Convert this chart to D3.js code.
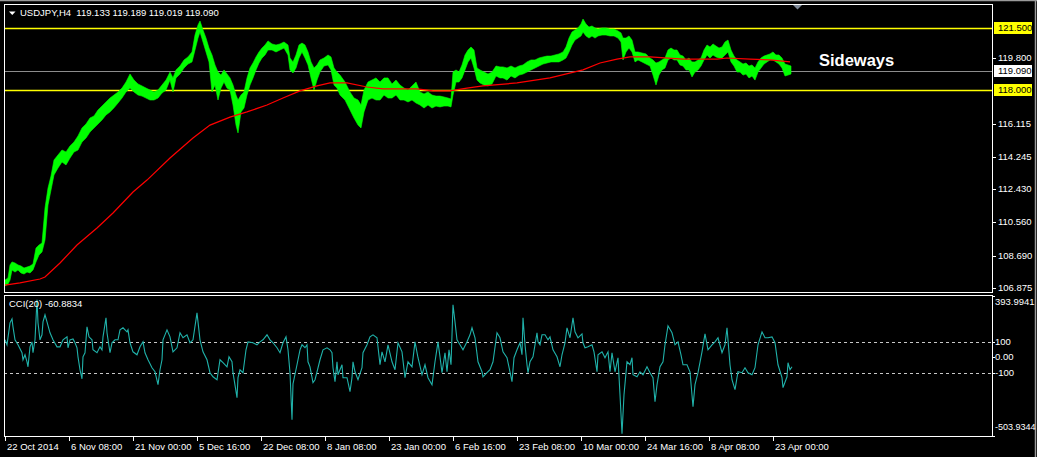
<!DOCTYPE html>
<html><head><meta charset="utf-8">
<script src="https://cdn.jsdelivr.net/npm/d3@7"></script>
<style>html,body{margin:0;padding:0;background:#000;overflow:hidden}svg{display:block}text{font-family:"Liberation Sans",Arial,sans-serif}</style>
</head><body><svg id="c" width="1037" height="457"></svg>
<script>
// ---------- DATA ----------
const symbolTitle = "USDJPY,H4  119.133 119.189 119.019 119.090";
const cciTitle = "CCI(20) -60.8834";
const annotation = "Sideways";
const dateLabels = ["22 Oct 2014","6 Nov 08:00","21 Nov 00:00","5 Dec 16:00","22 Dec 08:00","8 Jan 08:00","23 Jan 00:00","6 Feb 16:00","23 Feb 08:00","10 Mar 00:00","24 Mar 16:00","8 Apr 08:00","23 Apr 00:00"];
const dateBars = [0,64,128,192,256,320,384,448,512,576,640,704,768];
const priceTicks = [106.875,108.690,110.560,112.430,114.245,116.115,119.800];
const levelLines = [121.500,118.000];
const lastPrice = 119.090;
const cciTicks = [393.9941,100,0,-100,-503.9344];
const cciTickLabels = ["393.9941","100","0.00","-100","-503.9344"];
const cciLevels = [100,-100];
// [bar, high, low]
const price = [
[0,107.32,106.99],[3,107.44,107.10],[5,108.17,107.32],[7,108.34,107.89],[10,108.28,107.77],[13,108.17,107.89],[16,108.11,107.72],[19,108.00,107.66],[22,108.05,107.77],[25,108.11,107.72],[28,108.22,107.89],[31,109.12,108.34],[34,109.29,108.73],[37,109.40,108.90],[40,111.37,109.57],[43,112.49,111.54],[46,113.17,112.38],[49,114.07,113.23],[53,114.35,113.62],[57,114.63,113.96],[61,114.52,113.79],[65,114.86,114.18],[69,115.08,114.52],[73,115.42,114.63],[77,115.87,115.08],[81,116.09,115.30],[85,116.43,115.64],[89,116.54,115.87],[93,116.88,116.09],[97,117.10,116.32],[101,117.33,116.60],[105,117.55,116.77],[109,117.72,117.00],[113,117.89,117.27],[117,118.11,117.55],[121,118.45,117.89],[125,118.90,118.11],[129,118.56,117.89],[133,118.34,117.72],[137,118.23,117.66],[141,118.11,117.55],[145,118.00,117.44],[149,117.89,117.44],[153,118.00,117.55],[157,118.28,117.83],[161,118.56,118.00],[165,119.01,118.56],[168,118.68,117.89],[171,119.13,118.68],[175,119.35,118.90],[179,119.69,119.24],[183,119.86,119.46],[187,120.14,119.58],[190,121.09,120.25],[193,121.66,120.92],[195,121.88,121.26],[198,121.37,120.70],[201,120.92,120.14],[204,120.36,119.58],[207,119.97,117.89],[210,119.41,118.28],[213,119.01,117.44],[216,118.84,118.11],[219,119.13,118.45],[222,118.90,118.11],[225,118.68,118.00],[228,118.28,117.16],[231,117.72,116.03],[233,117.44,115.59],[236,117.72,116.77],[239,117.89,116.99],[242,118.68,117.72],[245,119.24,118.28],[248,119.52,118.68],[251,119.86,119.13],[254,120.14,119.52],[257,120.36,119.80],[260,120.53,119.97],[263,120.76,120.25],[267,120.59,120.25],[271,120.53,120.14],[275,120.59,120.25],[279,120.70,120.36],[283,120.53,119.97],[285,119.80,119.13],[288,119.58,118.96],[291,119.97,119.24],[294,120.53,119.80],[297,120.64,120.14],[300,120.53,119.80],[303,120.14,119.41],[306,119.58,118.68],[309,119.24,118.00],[312,119.41,118.56],[315,119.69,119.01],[319,119.80,119.35],[323,119.97,119.41],[326,119.86,119.13],[329,119.24,118.28],[332,119.01,118.11],[335,118.84,117.72],[340,118.45,117.44],[345,117.89,116.88],[349,117.55,116.43],[353,117.44,116.03],[356,117.16,115.87],[359,118.00,116.77],[363,118.45,117.44],[367,118.56,117.55],[371,118.68,117.44],[375,118.45,117.44],[379,118.68,117.72],[383,118.68,117.55],[387,118.34,117.55],[391,118.56,117.72],[395,118.28,117.44],[399,118.11,117.44],[403,118.00,117.33],[407,118.23,117.44],[411,118.45,117.27],[415,117.89,117.16],[419,117.78,116.99],[423,117.89,117.16],[427,117.72,116.99],[431,117.66,117.10],[435,117.66,117.05],[439,117.61,117.10],[443,117.55,117.10],[446,117.50,117.05],[448,119.01,117.72],[451,119.13,118.45],[454,119.01,118.45],[457,119.41,118.68],[460,119.97,119.13],[463,120.25,119.58],[466,120.42,119.80],[469,120.25,119.24],[472,119.24,118.56],[475,119.13,118.40],[479,119.01,118.28],[483,118.90,118.23],[487,119.01,118.34],[491,119.35,118.79],[495,119.30,118.68],[498,119.30,118.68],[502,119.24,118.56],[506,119.35,118.79],[510,119.24,118.68],[514,119.35,118.84],[518,119.41,118.90],[522,119.58,119.01],[526,119.69,119.13],[530,119.69,119.24],[534,119.80,119.35],[538,119.86,119.46],[542,119.91,119.52],[546,119.91,119.58],[550,119.97,119.58],[554,120.03,119.58],[558,120.14,119.69],[561,120.42,119.80],[564,120.92,120.14],[567,121.26,120.53],[570,121.37,120.81],[573,121.49,120.92],[576,121.71,121.04],[578,121.99,121.26],[581,121.71,121.04],[584,121.54,120.92],[587,121.60,121.04],[590,121.49,120.92],[593,121.43,121.04],[597,121.49,121.09],[601,121.49,121.09],[605,121.43,121.04],[609,121.43,121.04],[613,121.32,120.92],[616,121.21,120.70],[618,120.92,119.69],[621,120.92,120.14],[624,121.04,120.36],[627,120.81,120.14],[630,120.14,119.58],[633,120.14,119.69],[637,120.08,119.58],[641,120.03,119.46],[645,119.80,119.35],[648,119.69,118.84],[651,119.52,118.28],[654,119.58,118.84],[657,119.69,119.13],[660,119.80,119.24],[663,120.25,119.69],[666,120.36,119.80],[669,120.25,119.69],[672,120.25,119.69],[675,119.97,119.41],[678,119.91,119.35],[681,119.69,119.13],[684,119.80,119.13],[687,119.58,118.73],[690,119.58,119.01],[693,119.69,119.13],[696,119.80,119.35],[699,120.25,119.69],[702,120.53,119.97],[705,120.42,119.80],[708,120.59,119.97],[711,120.47,119.86],[714,120.36,119.80],[717,120.42,119.80],[720,120.70,119.97],[723,120.81,120.14],[726,120.25,119.58],[729,119.91,119.35],[732,119.69,119.01],[735,119.58,119.01],[738,119.46,118.84],[741,119.52,118.90],[744,119.35,118.68],[747,119.41,118.79],[750,119.24,118.56],[753,119.58,119.01],[756,119.80,119.24],[759,119.91,119.46],[762,119.97,119.58],[765,120.03,119.69],[768,120.14,119.69],[771,119.97,119.58],[774,119.97,119.46],[777,119.80,119.24],[780,119.46,118.79],[783,119.41,118.84],[786,119.35,118.90]
];
// moving average [bar, value]
const ma = [[0,107.04],[15,107.16],[35,107.38],[40,107.49],[55,108.28],[72,109.29],[92,110.25],[108,111.09],[128,112.27],[142,112.94],[165,114.18],[188,115.30],[205,116.03],[225,116.48],[242,116.77],[262,117.16],[278,117.55],[295,117.95],[312,118.23],[325,118.40],[342,118.40],[362,118.17],[378,118.06],[412,118.06],[428,117.95],[445,117.95],[462,118.11],[478,118.23],[512,118.40],[545,118.68],[578,119.13],[595,119.52],[612,119.74],[625,119.86],[645,119.86],[678,119.74],[712,119.74],[722,119.80],[745,119.74],[765,119.69],[785,119.58]];
// CCI(20) [bar, value]
const cci = [[0,113],[2,81],[5,222],[7,247],[8,196],[10,113],[13,81],[17,30],[18,-15],[20,17],[22,-28],[23,-60],[25,68],[27,100],[28,30],[30,113],[32,370],[33,222],[35,113],[37,145],[38,228],[40,273],[42,228],[45,158],[48,113],[52,68],[55,68],[58,113],[62,132],[63,62],[65,113],[68,119],[70,94],[72,62],[73,4],[75,-79],[77,-137],[78,4],[80,30],[82,196],[84,132],[87,113],[88,49],[92,30],[95,68],[97,49],[98,132],[101,254],[102,158],[105,30],[107,94],[110,113],[113,113],[115,177],[118,190],[122,164],[123,177],[125,94],[128,36],[132,17],[135,68],[138,100],[140,30],[143,-15],[147,-66],[150,-92],[153,-175],[155,-79],[157,-15],[158,113],[162,177],[165,132],[168,36],[172,62],[175,158],[178,126],[182,145],[185,94],[188,113],[192,286],[193,228],[195,113],[198,36],[202,-15],[205,-98],[208,-124],[212,-143],[215,-15],[218,-34],[222,-60],[224,4],[227,-28],[228,-98],[232,-258],[233,-130],[235,-79],[238,-98],[241,49],[243,100],[248,94],[252,81],[255,100],[258,113],[262,145],[265,113],[268,94],[272,62],[275,30],[278,94],[281,132],[283,49],[285,-98],[287,-399],[288,-170],[292,-47],[295,49],[297,81],[300,62],[302,81],[303,-28],[305,-60],[308,-162],[310,-143],[312,-92],[315,-15],[318,49],[322,62],[325,49],[327,30],[328,-66],[330,-156],[332,-28],[333,-111],[337,-47],[338,-130],[342,-130],[345,-220],[347,-130],[348,-28],[350,-92],[353,-143],[357,-66],[358,30],[362,81],[365,132],[368,145],[372,126],[373,68],[375,-47],[377,36],[380,-28],[383,81],[387,-28],[390,-79],[393,94],[397,36],[400,-130],[403,-28],[407,-60],[410,100],[413,-2],[417,-111],[420,-47],[423,-130],[427,-175],[430,-28],[433,100],[435,4],[437,-98],[440,30],[442,-92],[444,49],[446,-47],[448,337],[450,228],[452,113],[455,81],[458,49],[462,100],[465,145],[467,190],[470,126],[473,-28],[477,-92],[478,-124],[482,-98],[485,-79],[488,-28],[492,158],[495,126],[498,36],[502,-2],[505,-92],[507,-156],[509,-2],[512,49],[515,94],[517,17],[518,254],[520,81],[522,-47],[523,-98],[525,-28],[528,4],[532,158],[533,100],[535,81],[537,145],[540,145],[543,113],[545,132],[548,49],[552,4],[555,-60],[557,17],[560,94],[562,190],[565,126],[568,254],[570,164],[573,126],[577,151],[578,94],[580,62],[583,68],[587,81],[589,36],[592,-92],[593,17],[597,36],[600,-2],[603,36],[605,-92],[607,30],[610,-92],[613,-2],[615,-239],[617,-490],[619,-239],[622,-28],[625,-47],[627,-2],[628,-111],[632,-124],[635,-92],[638,-111],[642,-60],[645,-98],[648,-130],[650,-284],[652,-175],[655,-60],[658,-28],[660,81],[663,203],[667,158],[670,81],[673,100],[676,17],[678,-47],[682,-47],[685,-92],[688,-316],[690,-175],[693,-98],[697,36],[700,151],[703,49],[707,81],[710,100],[713,126],[717,30],[720,81],[722,190],[725,-47],[727,-143],[730,-207],[733,-92],[737,-98],[740,-66],[743,-98],[747,-111],[750,-66],[753,81],[757,164],[760,126],[763,126],[767,132],[770,94],[773,-47],[777,-130],[778,-194],[782,-124],[783,-34],[785,-79],[787,-60]];

// ---------- LAYOUT ----------
const svg = d3.select("#c");
const L = 4, R = 992;
const mainTop = 4, mainBot = 292, cciTop = 295, cciBot = 436;
const font = 9.5;

svg.append("rect").attr("width",1037).attr("height",457).attr("fill","#000");
svg.append("line").attr("x1",0).attr("x2",1037).attr("y1",0.5).attr("y2",0.5).attr("stroke","#9a9a9a").attr("stroke-width",1.5);
svg.append("line").attr("x1",1035.5).attr("x2",1035.5).attr("y1",0).attr("y2",457).attr("stroke","#9a9a9a").attr("stroke-width",1.5);

const x = d3.scaleLinear().domain([0, 988]).range([5, 993]);
const y = d3.scaleLinear().domain([106.65, 122.835]).range([mainBot, mainTop]);
const yc = d3.scaleLinear().domain([-503.9344, 393.9941]).range([cciBot, cciTop + 1]);

svg.append("clipPath").attr("id","cm").append("rect").attr("x",L+1).attr("y",mainTop+1).attr("width",R-L-1).attr("height",mainBot-mainTop-1);
svg.append("clipPath").attr("id","cc").append("rect").attr("x",L+1).attr("y",cciTop+1).attr("width",R-L-1).attr("height",cciBot-cciTop-1);

// ---------- MAIN PANEL ----------
const gm = svg.append("g").attr("clip-path","url(#cm)");
levelLines.forEach(v => gm.append("line").attr("x1",L).attr("x2",R).attr("y1",Math.round(y(v))+0.5).attr("y2",Math.round(y(v))+0.5).attr("stroke","#ffff00").attr("stroke-width",1.4));
gm.append("line").attr("x1",L).attr("x2",R).attr("y1",Math.round(y(lastPrice))+0.5).attr("y2",Math.round(y(lastPrice))+0.5).attr("stroke","#8c8c8c").attr("stroke-width",1);

gm.append("path").datum(price)
  .attr("d", d3.area().x(d => x(d[0])).y0(d => y(d[2])).y1(d => y(d[1])))
  .attr("fill","#00ff00").attr("stroke","#00ff00").attr("stroke-width",0.6);
gm.append("path").datum(ma)
  .attr("d", d3.line().x(d => x(d[0])).y(d => y(d[1])))
  .attr("fill","none").attr("stroke","#ff0000").attr("stroke-width",1.2);

svg.append("text").attr("x",819).attr("y",66).attr("fill","#ffffff").attr("font-size",16.5).attr("font-weight","bold").text(annotation);

svg.append("rect").attr("x",L+0.5).attr("y",mainTop+0.5).attr("width",R-L).attr("height",mainBot-mainTop).attr("fill","none").attr("stroke","#ffffff").attr("stroke-width",1);

// header
svg.append("path").attr("d","M9,11.5 L15.5,11.5 L12.25,15 Z").attr("fill","#ffffff");
svg.append("text").attr("x",20).attr("y",16).attr("fill","#ffffff").attr("font-size",font).attr("xml:space","preserve").style("white-space","pre").text(symbolTitle);
const lastBar = price[price.length-1][0];
svg.append("path").attr("d",`M${x(lastBar)+2},5 L${x(lastBar)+11},5 L${x(lastBar)+6.5},9.5 Z`).attr("fill","#7f8a99");

// price axis
const pa = svg.append("g");
priceTicks.forEach(v => {
  const yy = Math.round(y(v));
  pa.append("line").attr("x1",R).attr("x2",R+4).attr("y1",yy+0.5).attr("y2",yy+0.5).attr("stroke","#ffffff");
  pa.append("text").attr("x",998).attr("y",yy).attr("dy","0.35em").attr("fill","#ffffff").attr("font-size",font).text(d3.format(".3f")(v));
});
levelLines.forEach(v => {
  const yy = Math.round(y(v));
  pa.append("rect").attr("x",994).attr("y",yy-6).attr("width",38).attr("height",12).attr("fill","#ffff00");
  pa.append("text").attr("x",998).attr("y",yy).attr("dy","0.35em").attr("fill","#000").attr("font-size",font).text(d3.format(".3f")(v));
});
{
  const yy = Math.round(y(lastPrice));
  pa.append("rect").attr("x",994).attr("y",yy-6).attr("width",38).attr("height",12).attr("fill","#ffffff");
  pa.append("text").attr("x",998).attr("y",yy).attr("dy","0.35em").attr("fill","#000").attr("font-size",font).text(d3.format(".3f")(lastPrice));
}

// ---------- CCI PANEL ----------
const gc = svg.append("g").attr("clip-path","url(#cc)");
cciLevels.forEach(v => gc.append("line").attr("x1",L).attr("x2",R).attr("y1",Math.round(yc(v))+0.5).attr("y2",Math.round(yc(v))+0.5).attr("stroke","#c8c8c8").attr("stroke-dasharray","3,3"));
gc.append("path").datum(cci)
  .attr("d", d3.line().x(d => x(d[0])).y(d => yc(d[1])))
  .attr("fill","none").attr("stroke","#20b2aa").attr("stroke-width",1.1);
svg.append("rect").attr("x",L+0.5).attr("y",cciTop+0.5).attr("width",R-L).attr("height",cciBot-cciTop).attr("fill","none").attr("stroke","#ffffff");
svg.append("text").attr("x",9).attr("y",307).attr("fill","#ffffff").attr("font-size",font).text(cciTitle);

const ca = svg.append("g");
cciTicks.forEach((v,i) => {
  let yy = Math.round(yc(v));
  if (i === 0) yy += 6;
  if (i === cciTicks.length-1) yy -= 9;
  ca.append("line").attr("x1",R).attr("x2",R+3).attr("y1",Math.round(yc(v))+0.5).attr("y2",Math.round(yc(v))+0.5).attr("stroke","#ffffff");
  ca.append("text").attr("x",995).attr("y",yy).attr("dy","0.35em").attr("fill","#ffffff").attr("font-size",i===cciTicks.length-1?9:font).text(cciTickLabels[i]);
});

// ---------- TIME AXIS ----------
const ta = svg.append("g");
dateBars.forEach((b,i) => {
  const xx = Math.round(x(b));
  ta.append("line").attr("x1",xx+0.5).attr("x2",xx+0.5).attr("y1",cciBot).attr("y2",cciBot+5).attr("stroke","#ffffff");
  ta.append("text").attr("x",xx+2).attr("y",449.5).attr("fill","#ffffff").attr("font-size",font).text(dateLabels[i]);
});
</script></body></html>
